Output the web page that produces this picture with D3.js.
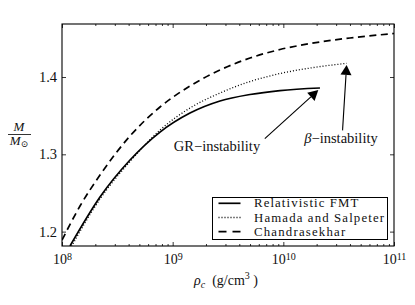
<!DOCTYPE html>
<html>
<head>
<meta charset="utf-8">
<script src="https://cdnjs.cloudflare.com/ajax/libs/d3/7.8.5/d3.min.js"></script>
<style>
  html, body { margin: 0; padding: 0; background: #fff; }
</style>
</head>
<body>
<svg id="chart" width="415" height="305"></svg>
<script>
// central density (g/cm^3) and mass (M / M_sun)
const fmtRho = [1.181e8, 2.205e8, 4.117e8, 7.685e8, 1.434e9, 2.677e9, 4.997e9, 9.33e9, 2.143e10];
const fmtMass = [1.1814, 1.2448, 1.2926, 1.3288, 1.3534, 1.369, 1.3774, 1.3825, 1.3858];

const hsRho = [1.181e8, 2.205e8, 4.117e8, 7.685e8, 1.434e9, 2.677e9, 4.997e9, 9.33e9, 1.741e10, 3.737e10];
const hsMass = [1.1775, 1.2422, 1.2907, 1.3314, 1.3599, 1.3793, 1.3942, 1.4045, 1.4116, 1.4177];

const chRho = [1.0e8, 1.4545e8, 2.205e8, 4.117e8, 7.685e8, 1.434e9, 2.677e9, 4.997e9, 9.33e9, 1.741e10, 4.004e10, 1.0e11];
const chMass = [1.1891, 1.2331, 1.2732, 1.3237, 1.3612, 1.3884, 1.4091, 1.4246, 1.4356, 1.4433, 1.4505, 1.4563];

const seriesNames = ["Relativistic FMT", "Hamada and Salpeter", "Chandrasekhar"];
const xTicks = [1e8, 1e9, 1e10, 1e11];
const yTicks = [1.2, 1.3, 1.4];

// annotation arrows: [tail rho, tail M, tip rho, tip M]
const grArrow = [6.8e9, 1.3203, 2.07e10, 1.3831];
const betaArrow = [3.43e10, 1.331, 3.73e10, 1.4156];

const FONT = "'Liberation Serif', 'DejaVu Serif', serif";

const svg = d3.select("#chart");
const mLeft = 62, mRight = 394, mTop = 24, mBottom = 246;

const x = d3.scaleLog().domain([1e8, 1e11]).range([mLeft, mRight]);
const y = d3.scaleLinear().domain([1.1814, 1.4686]).range([mBottom, mTop]);

svg.append("defs").append("clipPath").attr("id", "plotclip")
  .append("rect").attr("x", mLeft).attr("y", mTop)
  .attr("width", mRight - mLeft).attr("height", mBottom - mTop);

const line = d3.line()
  .x(d => x(d[0]))
  .y(d => y(d[1]))
  .curve(d3.curveMonotoneX);

const curves = [
  { rho: fmtRho, m: fmtMass, dash: null, legDash: null, w: 1.7 },
  { rho: hsRho, m: hsMass, dash: "1,2", legDash: "1,2", w: 1.3 },
  { rho: chRho, m: chMass, dash: "7,4.5", legDash: "8,6", w: 1.7 }
];

const plot = svg.append("g").attr("clip-path", "url(#plotclip)");
curves.forEach(c => {
  plot.append("path")
    .datum(c.rho.map((r, i) => [r, c.m[i]]))
    .attr("d", line)
    .attr("fill", "none")
    .attr("stroke", "#000")
    .attr("stroke-width", c.w)
    .attr("stroke-dasharray", c.dash);
});

// minor log ticks
const minor = [];
for (let e = 8; e < 11; e++) for (let k = 2; k <= 9; k++) minor.push(k * Math.pow(10, e));

function styleAxis(g) {
  g.select(".domain").remove();
  g.selectAll("line").attr("stroke", "#000").attr("stroke-width", 0.8);
}

svg.append("g").attr("transform", `translate(0,${mBottom})`)
  .call(d3.axisBottom(x).tickValues(minor).tickSize(-2).tickFormat("")).call(styleAxis);
svg.append("g").attr("transform", `translate(0,${mTop})`)
  .call(d3.axisTop(x).tickValues(minor).tickSize(-2).tickFormat("")).call(styleAxis);
svg.append("g").attr("transform", `translate(0,${mTop})`)
  .call(d3.axisTop(x).tickValues(xTicks).tickSize(-4).tickFormat("")).call(styleAxis);
svg.append("g").attr("transform", `translate(${mRight},0)`)
  .call(d3.axisRight(y).tickValues(yTicks).tickSize(-4).tickFormat("")).call(styleAxis);

const xAxis = svg.append("g").attr("transform", `translate(0,${mBottom})`)
  .call(d3.axisBottom(x).tickValues(xTicks).tickSize(-4).tickFormat(""))
  .call(styleAxis);
xAxis.selectAll(".tick text").each(function (d) {
  const t = d3.select(this)
    .attr("font-size", 14).attr("dy", "0.71em").attr("y", 8).attr("fill", "#111");
  t.text("10");
  t.append("tspan").attr("dy", "-0.42em").attr("font-size", 10)
    .text(Math.round(Math.log10(d)));
});

const yAxis = svg.append("g").attr("transform", `translate(${mLeft},0)`)
  .call(d3.axisLeft(y).tickValues(yTicks).tickSize(-4).tickFormat(d3.format(".1f")))
  .call(styleAxis);
yAxis.selectAll(".tick text").attr("font-size", 14.5).attr("x", -5).attr("fill", "#111");

// frame
svg.append("rect").attr("x", mLeft).attr("y", mTop)
  .attr("width", mRight - mLeft).attr("height", mBottom - mTop)
  .attr("fill", "none").attr("stroke", "#000").attr("stroke-width", 1.1);

// axis labels
const xl = svg.append("text").attr("x", 226).attr("y", 285)
  .attr("text-anchor", "middle").attr("font-size", 14);
xl.append("tspan").attr("font-style", "italic").text("ρ");
xl.append("tspan").attr("font-style", "italic").attr("font-size", 10).attr("dy", 3).text("c");
xl.append("tspan").attr("dy", -3).text("\u00a0\u00a0(g/cm");
xl.append("tspan").attr("font-size", 10).attr("dy", -6).text("3");
xl.append("tspan").attr("dy", 6).text("\u00a0)");

svg.append("text").attr("x", 19).attr("y", 131).attr("text-anchor", "middle")
  .attr("font-size", 13).attr("font-style", "italic").text("M");
svg.append("line").attr("x1", 8).attr("x2", 31).attr("y1", 134.5).attr("y2", 134.5)
  .attr("stroke", "#000").attr("stroke-width", 0.8);
const den = svg.append("text").attr("x", 19).attr("y", 145).attr("text-anchor", "middle")
  .attr("font-size", 13);
den.append("tspan").attr("font-style", "italic").text("M");
den.append("tspan").attr("font-size", 9).attr("dy", 2).text("⊙");

// annotations
function arrow(a) {
  const x1 = x(a[0]), y1 = y(a[1]), x2 = x(a[2]), y2 = y(a[3]);
  const ang = Math.atan2(y2 - y1, x2 - x1);
  const hl = 10, hw = 5.5;
  const bx = x2 - hl * Math.cos(ang), by = y2 - hl * Math.sin(ang);
  svg.append("line").attr("x1", x1).attr("y1", y1).attr("x2", bx).attr("y2", by)
    .attr("stroke", "#000").attr("stroke-width", 1.1);
  const px = -Math.sin(ang) * hw, py = Math.cos(ang) * hw;
  svg.append("polygon")
    .attr("points", [[x2, y2], [bx + px, by + py], [bx - px, by - py]].map(p => p.join(",")).join(" "))
    .attr("fill", "#000");
}
arrow(grArrow);
arrow(betaArrow);

svg.append("text").attr("x", 217).attr("y", 151).attr("text-anchor", "middle")
  .attr("font-size", 14.5).text("GR−instability");
const bt = svg.append("text").attr("x", 341).attr("y", 143).attr("text-anchor", "middle")
  .attr("font-size", 14.5);
bt.append("tspan").attr("font-style", "italic").text("β");
bt.append("tspan").text("−instability");

// legend
const lg = svg.append("g");
lg.append("rect").attr("x", 212.5).attr("y", 197.5).attr("width", 175).attr("height", 42)
  .attr("fill", "#fff").attr("stroke", "#000").attr("stroke-width", 1);
const legText = [];
seriesNames.forEach((name, i) => {
  const yy = 203.3 + i * 14.2;
  lg.append("line").attr("x1", 218.5).attr("x2", 240.5).attr("y1", yy).attr("y2", yy)
    .attr("stroke", "#000").attr("stroke-width", curves[i].w)
    .attr("stroke-dasharray", curves[i].legDash);
  legText.push(lg.append("text").attr("x", 254).attr("y", yy + 4).attr("font-size", 12.8).text(name));
});

// one font for every text, set inline so nothing overrides it
svg.selectAll("text").style("font-family", FONT).style("fill", "#111");

// the original's legend font runs wider: stretch so the longest entry fills the box
const natural = legText.map(t => t.node().getComputedTextLength());
const stretch = 130 / d3.max(natural);
if (stretch > 1) {
  legText.forEach((t, i) => t.attr("textLength", natural[i] * stretch).attr("lengthAdjust", "spacing"));
}
</script>
</body>
</html>
